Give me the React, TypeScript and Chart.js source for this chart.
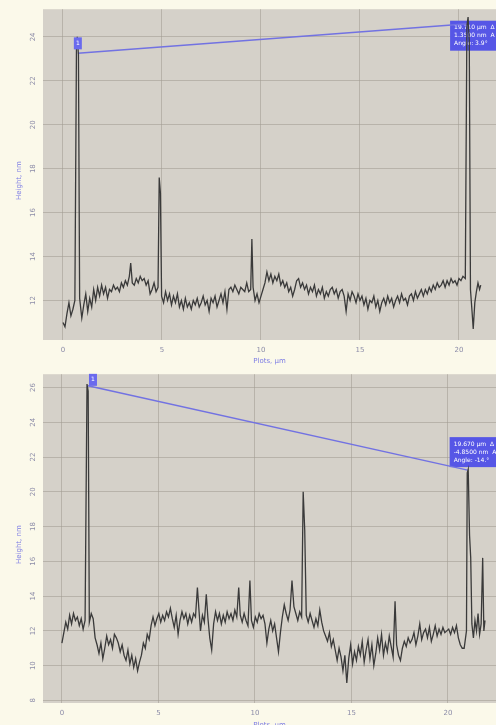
import React, { useEffect, useRef } from "react";
import { Chart, registerables } from "chart.js";

Chart.register(...registerables);

// ---------- data ----------
const xTickValues = [0, 5, 10, 15, 20];
const topYTickValues = [12, 14, 16, 18, 20, 22, 24];
const bottomYTickValues = [8, 10, 12, 14, 16, 18, 20, 22, 24, 26];

const xAxisTitle = "Plots, µm";
const yAxisTitle = "Height, nm";

const topX = [
  0.0, 0.1, 0.2, 0.3, 0.4, 0.5, 0.6, 0.68, 0.72, 0.78, 0.84, 0.95, 1.05, 1.15, 1.25, 1.35, 1.45, 1.55, 1.65, 1.75,
  1.85, 1.95, 2.05, 2.15, 2.25, 2.35, 2.45, 2.55, 2.65, 2.75, 2.85, 2.95, 3.05, 3.15, 3.25, 3.35, 3.42, 3.5, 3.6, 3.7,
  3.8, 3.9, 4.0, 4.1, 4.2, 4.3, 4.4, 4.5, 4.6, 4.7, 4.8, 4.86, 4.92, 4.98, 5.08, 5.18, 5.28, 5.38, 5.48, 5.58,
  5.68, 5.78, 5.88, 5.98, 6.08, 6.18, 6.28, 6.38, 6.48, 6.58, 6.68, 6.78, 6.88, 6.98, 7.08, 7.18, 7.28, 7.38, 7.48, 7.58,
  7.68, 7.78, 7.88, 7.98, 8.08, 8.18, 8.28, 8.38, 8.48, 8.58, 8.68, 8.78, 8.88, 8.98, 9.08, 9.18, 9.28, 9.38, 9.48, 9.54,
  9.6, 9.7, 9.8, 9.9, 10.0, 10.1, 10.2, 10.3, 10.4, 10.5, 10.6, 10.7, 10.8, 10.9, 11.0, 11.1, 11.2, 11.3, 11.4, 11.5,
  11.6, 11.7, 11.8, 11.9, 12.0, 12.1, 12.2, 12.3, 12.4, 12.5, 12.6, 12.7, 12.8, 12.9, 13.0, 13.1, 13.2, 13.3, 13.4, 13.5,
  13.6, 13.7, 13.8, 13.9, 14.0, 14.1, 14.2, 14.3, 14.4, 14.5, 14.6, 14.7, 14.8, 14.9, 15.0, 15.1, 15.2, 15.3, 15.4, 15.5,
  15.6, 15.7, 15.8, 15.9, 16.0, 16.1, 16.2, 16.3, 16.4, 16.5, 16.6, 16.7, 16.8, 16.9, 17.0, 17.1, 17.2, 17.3, 17.4, 17.5,
  17.6, 17.7, 17.8, 17.9, 18.0, 18.1, 18.2, 18.3, 18.4, 18.5, 18.6, 18.7, 18.8, 18.9, 19.0, 19.1, 19.2, 19.3, 19.4, 19.5,
  19.6, 19.7, 19.8, 19.9, 20.0, 20.1, 20.2, 20.32, 20.4, 20.46, 20.52, 20.58, 20.66, 20.72, 20.8, 20.88, 20.96, 21.04, 21.1,
];
const topHeight = [
  11.0, 10.8, 11.4, 11.9, 11.3, 11.6, 12.0, 23.5, 24.0, 23.2, 12.1, 11.2, 11.8, 12.3, 11.5, 12.1, 11.7, 12.5, 12.0, 12.6,
  12.2, 12.7, 12.3, 12.6, 12.1, 12.5, 12.4, 12.7, 12.5, 12.6, 12.4, 12.8, 12.6, 12.9, 12.7, 13.1, 13.7, 12.8, 12.7, 13.0,
  12.8, 13.1, 12.9, 13.0, 12.7, 12.9, 12.3, 12.5, 12.8, 12.4, 12.6, 17.6, 16.9, 12.2, 11.9, 12.4, 12.0, 12.3, 11.8, 12.2,
  11.9, 12.3, 11.7, 12.0, 11.6, 12.1, 11.7, 11.9, 11.6, 12.0, 11.8, 12.1, 11.7, 11.9, 12.2, 11.8, 12.0, 11.5, 12.1, 11.9,
  12.2, 11.7, 12.0, 12.3, 11.9, 12.4, 11.6, 12.5, 12.6, 12.4, 12.7, 12.5, 12.3, 12.6, 12.5, 12.4, 12.8, 12.4, 12.5, 14.8,
  12.6, 12.0, 12.3, 11.9, 12.2, 12.5, 12.8, 13.3, 12.9, 13.2, 12.8, 13.1, 12.9, 13.2, 12.7, 12.9, 12.6, 12.8, 12.4, 12.6,
  12.2, 12.5, 12.9, 13.0, 12.6, 12.8, 12.5, 12.7, 12.3, 12.6, 12.4, 12.7, 12.2, 12.5, 12.3, 12.6, 12.1, 12.4, 12.2, 12.5,
  12.6, 12.3, 12.5, 12.1, 12.4, 12.5, 12.2, 11.5, 12.3, 12.0, 12.4, 12.2, 11.9, 12.3, 12.0, 12.2, 11.8, 12.1, 11.6, 12.0,
  11.9, 12.2, 11.7, 12.0, 11.5, 11.9, 12.1, 11.8, 12.2, 11.9, 12.1, 11.7, 12.0, 12.2, 11.9, 12.3, 12.0, 12.1, 11.8, 12.2,
  12.3, 12.0, 12.4, 12.1, 12.3, 12.5, 12.2, 12.5, 12.3, 12.6, 12.4, 12.7, 12.5, 12.8, 12.6, 12.7, 12.9, 12.6, 12.9, 12.7,
  13.0, 12.8, 12.9, 12.7, 13.0, 12.9, 13.1, 13.0, 24.5, 24.9, 23.8, 12.5, 11.5, 10.7, 11.9, 12.4, 12.8, 12.5, 12.7,
];
const topMarkerX = [0.75, 20.46];
const topMarkerY = [23.25, 24.6];
const topBoxLines = ["19.710 µm  ∆", "1.3500 nm  A", "Angle: 3.9°"];

const bottomX = [
  0.0, 0.1, 0.2, 0.3, 0.4, 0.5, 0.6, 0.7, 0.8, 0.9, 1.0, 1.1, 1.2, 1.3, 1.36, 1.42, 1.52, 1.62, 1.72, 1.82,
  1.92, 2.02, 2.12, 2.22, 2.32, 2.42, 2.52, 2.62, 2.72, 2.82, 2.92, 3.02, 3.12, 3.22, 3.32, 3.42, 3.52, 3.62, 3.72, 3.82,
  3.92, 4.02, 4.12, 4.22, 4.32, 4.42, 4.52, 4.62, 4.72, 4.82, 4.92, 5.02, 5.12, 5.22, 5.32, 5.42, 5.52, 5.62, 5.72, 5.82,
  5.92, 6.02, 6.12, 6.22, 6.32, 6.42, 6.52, 6.62, 6.72, 6.82, 6.92, 7.02, 7.1, 7.18, 7.28, 7.38, 7.48, 7.56, 7.66, 7.76,
  7.86, 7.96, 8.06, 8.16, 8.26, 8.36, 8.46, 8.56, 8.66, 8.76, 8.86, 8.96, 9.06, 9.16, 9.24, 9.34, 9.44, 9.54, 9.64, 9.74,
  9.82, 9.92, 10.02, 10.12, 10.22, 10.32, 10.42, 10.52, 10.62, 10.72, 10.82, 10.92, 11.02, 11.12, 11.22, 11.32, 11.42, 11.52, 11.62, 11.72,
  11.82, 11.92, 12.02, 12.12, 12.22, 12.32, 12.42, 12.5, 12.58, 12.66, 12.76, 12.86, 12.96, 13.06, 13.16, 13.26, 13.36, 13.46, 13.56, 13.66,
  13.76, 13.86, 13.96, 14.06, 14.16, 14.26, 14.36, 14.46, 14.56, 14.66, 14.76, 14.86, 14.96, 15.06, 15.16, 15.26, 15.36, 15.46, 15.56, 15.66,
  15.76, 15.86, 15.96, 16.06, 16.16, 16.26, 16.36, 16.46, 16.56, 16.66, 16.76, 16.86, 16.96, 17.06, 17.16, 17.26, 17.34, 17.44, 17.54, 17.64,
  17.74, 17.84, 17.94, 18.04, 18.14, 18.24, 18.34, 18.44, 18.54, 18.64, 18.74, 18.84, 18.94, 19.04, 19.14, 19.24, 19.34, 19.44, 19.54, 19.64,
  19.74, 19.84, 19.94, 20.04, 20.14, 20.24, 20.34, 20.44, 20.54, 20.64, 20.74, 20.84, 20.96, 21.0, 21.05, 21.12, 21.18, 21.24, 21.32, 21.4,
  21.48, 21.56, 21.64, 21.72, 21.8, 21.86, 21.92,
];
const bottomHeight = [
  11.3, 11.9, 12.5, 12.1, 12.9, 12.4, 13.0, 12.6, 12.8, 12.3, 12.7, 12.1, 12.6, 26.2, 25.8, 12.5, 13.0, 12.7, 11.6, 11.2,
  10.7, 11.3, 10.4, 11.0, 11.7, 11.2, 11.5, 11.0, 11.8, 11.6, 11.3, 10.8, 11.2, 10.6, 10.3, 10.9, 10.1, 10.6, 9.9, 10.4,
  9.7, 10.2, 10.6, 11.3, 11.0, 11.8, 11.5, 12.3, 12.8, 12.3, 12.7, 13.0, 12.5, 12.9, 12.6, 13.1, 12.8, 13.3, 12.7, 12.2,
  12.9, 11.8, 12.6, 13.1, 12.7, 13.0, 12.4, 12.9, 12.5, 13.0, 12.8, 14.5, 13.2, 12.0, 12.9, 12.5, 14.1, 12.8, 11.6, 10.9,
  12.4, 13.1, 12.6, 13.0, 12.4, 12.9, 12.5, 13.1, 12.7, 13.0, 12.6, 13.2, 12.8, 14.5, 12.9, 12.5, 13.0, 12.6, 12.3, 14.9,
  12.6, 12.2, 12.8, 12.5, 13.0, 12.7, 12.9, 12.4, 11.3, 12.1, 12.6, 12.0, 12.4, 11.6, 10.8, 11.9, 12.8, 13.5, 13.0, 12.6,
  13.2, 14.9, 13.4, 13.0, 12.6, 13.1, 12.8, 20.0, 17.8, 12.9, 12.5, 13.0, 12.6, 12.2, 12.7, 12.3, 13.2, 12.5, 12.0, 11.7,
  11.4, 11.9, 11.1, 11.5, 10.9, 10.3, 11.0, 10.5, 9.7, 10.6, 9.0, 10.4, 11.2, 10.1, 10.8, 10.3, 11.1, 10.6, 11.4, 10.2,
  10.9, 11.5, 10.4, 11.2, 10.0, 10.7, 11.6, 10.9, 11.8, 10.6, 11.3, 10.8, 11.7, 11.1, 10.5, 13.7, 11.2, 10.6, 10.3, 11.0,
  11.4, 11.1, 11.6, 11.3, 11.5, 11.9, 11.2, 11.7, 12.4, 11.5, 11.9, 12.1, 11.6, 12.2, 11.4, 11.8, 12.3, 11.7, 12.1, 11.8,
  12.2, 11.9, 12.0, 12.1, 11.8, 12.2, 11.9, 12.3, 11.6, 11.2, 11.0, 11.0, 12.0, 21.1, 21.3, 17.5, 16.2, 12.4, 11.6, 12.6,
  12.0, 13.0, 11.8, 12.4, 16.2, 12.0, 12.6,
];
const bottomMarkerX = [1.35, 21.02];
const bottomMarkerY = [26.1, 21.25];
const bottomBoxLines = ["19.670 µm  ∆", "-4.8500 nm  A", "Angle: -14.°"];

// ---------- styles ----------
const CREAM = "#fbf9ea";
const PLOT_BG = "#d5d1c9";
const GRID = "rgba(160,154,144,0.55)";
const LINE = "#3a3a3a";
const BLUE_LINE = "#7272e2";
const BOX = "#5656e6";
const TICK_COLOR = "#8c8ca8";
const TITLE_COLOR = "#7c7ce4";
const FONT = "DejaVu Sans";

type PanelProps = {
  canvasHeight: number;
  xAxisHeight: number;
  xMin: number;
  xMax: number;
  yMin: number;
  yMax: number;
  yTicks: number[];
  xs: number[];
  ys: number[];
  markerX: number[];
  markerY: number[];
  boxLines: string[];
  boxDx: number;
  boxDy: number;
  squareDx: number;
  squareDy: number;
  xTitleY: number;
};

function Panel(p: PanelProps) {
  const ref = useRef<HTMLCanvasElement | null>(null);
  useEffect(() => {
    const canvas = ref.current;
    if (!canvas) return;

    const plugin = {
      id: "panelDecor",
      beforeDraw(chart: any) {
        const { ctx, chartArea: ca, width, height } = chart;
        ctx.save();
        ctx.fillStyle = CREAM;
        ctx.fillRect(0, 0, width, height);
        ctx.fillStyle = PLOT_BG;
        ctx.fillRect(ca.left, ca.top, ca.right - ca.left, ca.bottom - ca.top);
        ctx.restore();
      },
      beforeDatasetsDraw(chart: any) {
        const { ctx } = chart;
        const meta = chart.getDatasetMeta(1);
        const end = meta.data[1];
        if (!end) return;
        const bx = end.x + p.boxDx;
        const by = end.y + p.boxDy;
        ctx.save();
        ctx.fillStyle = BOX;
        ctx.fillRect(bx, by, 60, 30);
        ctx.fillStyle = "#ffffff";
        ctx.font = `6px "${FONT}"`;
        ctx.textBaseline = "middle";
        ctx.textAlign = "left";
        p.boxLines.forEach((t, i) => ctx.fillText(t, bx + 4, by + 7 + i * 8));
        ctx.restore();
      },
      afterDraw(chart: any) {
        const { ctx, chartArea: ca } = chart;
        const meta = chart.getDatasetMeta(1);
        const start = meta.data[0];
        ctx.save();
        if (start) {
          ctx.fillStyle = "#6a6aee";
          ctx.fillRect(start.x + p.squareDx, start.y + p.squareDy, 8, 12);
          ctx.fillStyle = "#ffffff";
          ctx.font = `6px "${FONT}"`;
          ctx.textAlign = "center";
          ctx.textBaseline = "middle";
          ctx.fillText("1", start.x + p.squareDx + 4, start.y + p.squareDy + 6);
        }
        ctx.fillStyle = TITLE_COLOR;
        ctx.font = `7px "${FONT}"`;
        ctx.textAlign = "center";
        ctx.textBaseline = "middle";
        ctx.fillText(xAxisTitle, (ca.left + ca.right) / 2, p.xTitleY);
        ctx.translate(19, (ca.top + ca.bottom) / 2 + 6);
        ctx.rotate(-Math.PI / 2);
        ctx.fillText(yAxisTitle, 0, 0);
        ctx.restore();
      },
    };

    const chart = new Chart(canvas, {
      type: "line",
      data: {
        datasets: [
          {
            data: p.xs.map((x, i) => ({ x, y: p.ys[i] })),
            borderColor: LINE,
            borderWidth: 1.3,
            pointRadius: 0,
            tension: 0,
            fill: false,
          },
          {
            data: p.markerX.map((x, i) => ({ x, y: p.markerY[i] })),
            borderColor: BLUE_LINE,
            borderWidth: 1.5,
            pointRadius: 0,
            tension: 0,
            fill: false,
          },
        ],
      },
      options: {
        animation: false,
        responsive: false,
        devicePixelRatio: 1,
        layout: { padding: { top: 5, right: 0, left: 0, bottom: 0 } },
        plugins: { legend: { display: false }, tooltip: { enabled: false } },
        scales: {
          x: {
            type: "linear",
            min: p.xMin,
            max: p.xMax,
            afterBuildTicks: (s: any) => {
              s.ticks = xTickValues.map((v) => ({ value: v }));
            },
            afterFit: (s: any) => {
              s.height = p.xAxisHeight;
            },
            grid: { color: GRID, lineWidth: 1, drawTicks: false },
            border: { display: false },
            ticks: {
              color: TICK_COLOR,
              font: { family: FONT, size: 7 },
              padding: 6,
              maxRotation: 0,
              autoSkip: false,
            },
          },
          y: {
            type: "linear",
            min: p.yMin,
            max: p.yMax,
            afterBuildTicks: (s: any) => {
              s.ticks = p.yTicks.map((v) => ({ value: v }));
            },
            afterFit: (s: any) => {
              s.width = 43;
            },
            grid: { color: GRID, lineWidth: 1, drawTicks: false },
            border: { display: false },
            ticks: {
              color: TICK_COLOR,
              font: { family: FONT, size: 7 },
              padding: 5,
              minRotation: 90,
              maxRotation: 90,
              crossAlign: "center",
              autoSkip: false,
            },
          },
        },
      },
      plugins: [plugin],
    } as any);
    return () => chart.destroy();
  }, []);
  return <canvas ref={ref} width={496} height={p.canvasHeight} style={{ display: "block" }} />;
}

export default function App() {
  return (
    <div
      style={{
        position: "absolute",
        left: 0,
        top: 0,
        width: 496,
        height: 725,
        overflow: "hidden",
        background: CREAM,
      }}
    >
      <Panel
        canvasHeight={365}
        xAxisHeight={25}
        xMin={-1.01}
        xMax={21.87}
        yMin={10.2}
        yMax={25.26}
        yTicks={topYTickValues}
        xs={topX}
        ys={topHeight}
        markerX={topMarkerX}
        markerY={topMarkerY}
        boxLines={topBoxLines}
        boxDx={-18}
        boxDy={-3}
        squareDx={-4}
        squareDy={-16}
        xTitleY={361}
      />
      <Panel
        canvasHeight={370}
        xAxisHeight={32}
        xMin={-0.98}
        xMax={22.49}
        yMin={7.85}
        yMax={26.77}
        yTicks={bottomYTickValues}
        xs={bottomX}
        ys={bottomHeight}
        markerX={bottomMarkerX}
        markerY={bottomMarkerY}
        boxLines={bottomBoxLines}
        boxDx={-18}
        boxDy={-33}
        squareDx={1}
        squareDy={-12}
        xTitleY={360}
      />
    </div>
  );
}
